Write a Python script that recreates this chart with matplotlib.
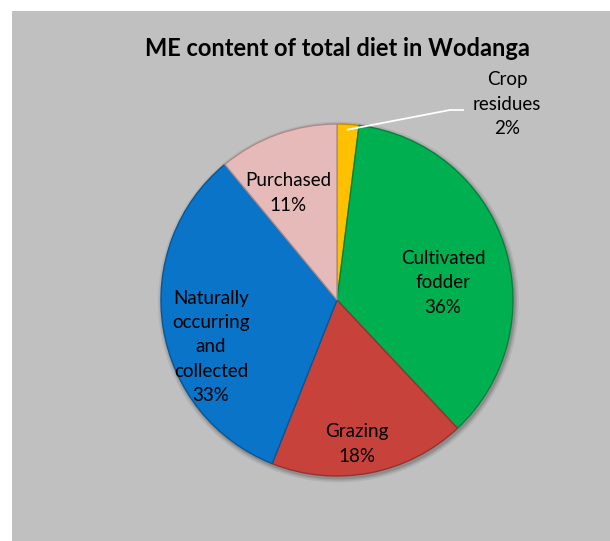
import numpy as np
import matplotlib
matplotlib.use("Agg")
import matplotlib.pyplot as plt
from matplotlib.patches import Rectangle, Ellipse
import matplotlib.colors as mcolors

# ---- data ----
categories = ["Crop\nresidues", "Cultivated\nfodder", "Grazing",
              "Naturally\noccurring\nand\ncollected", "Purchased"]
values = [2, 36, 18, 33, 11]
colors = ["#FFC000", "#00B050", "#C8423C", "#0A74C8", "#E6BAB8"]
title = "ME content of total diet in Wodanga"

# ---- figure in pixel-like coords ----
W, H, DPI = 610, 541, 100
CX, CY, R = 337, 300, 176
fig = plt.figure(figsize=(W / DPI, H / DPI), dpi=DPI)
fig.patch.set_facecolor("white")
fig.add_artist(Rectangle((12 / W, 0), 1 - 12 / W, 1 - 11 / H,
                         transform=fig.transFigure, facecolor="#C0C0C0",
                         edgecolor="none", zorder=0))
ax = fig.add_axes([0, 0, 1, 1])
ax.set_facecolor("none")


def px(x, y):
    return (x - CX) / R, (CY - y) / R


# soft shadow
for k, a in [(1.025, 0.12), (1.015, 0.18), (1.007, 0.25)]:
    ax.add_patch(Ellipse((0.008, -0.012), 2 * k, 2 * k, facecolor="#555555",
                         alpha=a, edgecolor="none", zorder=1))

wedges, _ = ax.pie(values, colors=colors, startangle=90, counterclock=False,
                   radius=1.0, center=(0, 0), frame=False,
                   wedgeprops=dict(linewidth=0))
ax.set_xlim(-CX / R, (W - CX) / R)
ax.set_ylim((CY - H) / R, CY / R)
ax.set_aspect("equal")
ax.axis("off")
for w, c in zip(wedges, colors):
    dark = np.array(mcolors.to_rgb(c)) * 0.75
    w.set_edgecolor(dark)
    w.set_linewidth(1.0)
    w.set_zorder(2)

font = "Lato"
label_px = [(507, 104), (443, 283), (357, 444), (211, 347), (288, 193)]
for cat, v, (lx, ly) in zip(categories, values, label_px):
    x, y = px(lx, ly)
    ax.text(x, y, f"{cat}\n{v}%", ha="center", va="center", fontsize=13.5,
            family=font, color="black", linespacing=1.52, zorder=5)

# leader line for crop residues
theta = np.deg2rad(90 - 360 * values[0] / 2 / 100)
sx, sy = 0.97 * np.cos(theta), 0.97 * np.sin(theta)
ex, ey = px(450, 110)
fx, fy = px(463, 110)
ax.plot([sx, ex, fx], [sy, ey, fy], color="white", lw=1.3, zorder=4)

tx, ty = px(337, 48)
ax.text(tx, ty, title, ha="center", va="center", fontsize=17,
        fontweight="bold", family=font, color="black")

fig.savefig("out.png", dpi=DPI)
